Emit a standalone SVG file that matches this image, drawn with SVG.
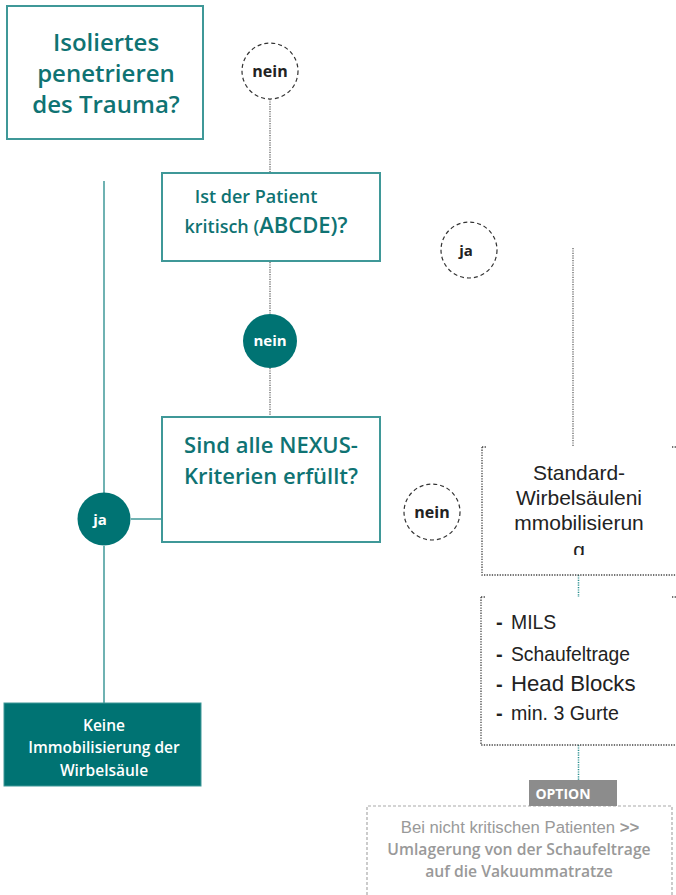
<svg xmlns="http://www.w3.org/2000/svg" width="676" height="895" viewBox="0 0 676 895">
<defs>
<style>
.box{fill:#fff;stroke:#3f9898;stroke-width:2}
.tq{font-family:"Open Sans","DejaVu Sans",sans-serif;font-weight:600;fill:#0f7373;text-anchor:middle}
.dc{fill:#fff;stroke:#333;stroke-width:1.2;stroke-dasharray:4 3}
.fc{fill:#007373}
.lbl{font-family:"Open Sans","DejaVu Sans",sans-serif;font-weight:700;text-anchor:middle}
.dot{fill:none;stroke:#777;stroke-width:1.5;stroke-dasharray:1.2 1.2}
.tdot{fill:none;stroke:#2a9090;stroke-width:1.5;stroke-dasharray:1.2 1.2}
.solid{fill:none;stroke:#3f9898;stroke-width:1.5}
.bdot{fill:none;stroke:#444;stroke-width:1.3;stroke-dasharray:1.3 1.3}
.ar{font-family:"Liberation Sans",Arial,sans-serif;fill:#222}
</style>
<clipPath id="stdclip"><rect x="482" y="447" width="194" height="108"/></clipPath>
</defs>

<g id="connectors">
<line class="dot" x1="270" y1="99" x2="270" y2="173"/>
<line class="dot" x1="270" y1="262" x2="270" y2="314"/>
<line class="dot" x1="270" y1="368" x2="270" y2="417"/>
<line class="solid" x1="104" y1="181" x2="104" y2="493"/>
<line class="solid" x1="104" y1="546" x2="104" y2="703"/>
<line class="solid" x1="131" y1="519" x2="162" y2="519"/>
<line class="dot" x1="573" y1="248" x2="573" y2="446"/>
<line class="tdot" x1="578.5" y1="575" x2="578.5" y2="597"/>
<line class="tdot" x1="578.5" y1="745" x2="578.5" y2="780"/>
</g>

<g id="n-isoliert">
<rect class="box" x="7" y="6" width="196" height="133"/>
<text class="tq" font-size="24" x="106"><tspan x="106" y="51">Isoliertes</tspan><tspan x="106" y="82">penetrieren</tspan><tspan x="106" y="113">des Trauma?</tspan></text>
</g>

<g id="c-nein1">
<circle class="dc" cx="270" cy="71" r="28"/>
<text class="lbl" font-size="16" x="270" y="77" fill="#222">nein</text>
</g>

<g id="n-kritisch">
<rect class="box" x="162" y="173" width="218" height="88"/>
<text class="tq" font-size="18" x="256" y="203">Ist der Patient</text>
<text class="tq" x="266" y="233"><tspan font-size="18">kritisch (</tspan><tspan font-size="22">ABCDE)?</tspan></text>
</g>

<g id="c-nein2">
<circle class="fc" cx="270" cy="341" r="27"/>
<text class="lbl" font-size="15" x="270" y="346" fill="#fff">nein</text>
</g>

<g id="n-nexus">
<rect class="box" x="162" y="417" width="218" height="125"/>
<text class="tq" font-size="22" x="271"><tspan x="271" y="453">Sind alle NEXUS-</tspan><tspan x="271" y="484">Kriterien erfüllt?</tspan></text>
</g>

<g id="c-ja1">
<circle class="fc" cx="104" cy="519" r="26.5"/>
<text class="lbl" font-size="15" x="100" y="525" fill="#fff" font-weight="600">ja</text>
</g>

<g id="n-keine">
<rect x="4" y="703" width="197" height="83" fill="#007373" stroke="#3f9898" stroke-width="1"/>
<text class="tq" font-size="15.5" style="fill:#fff" x="104"><tspan x="104" y="731">Keine</tspan><tspan x="104" y="753">Immobilisierung der</tspan><tspan x="104" y="776">Wirbelsäule</tspan></text>
</g>

<g id="c-ja2">
<circle class="dc" cx="469" cy="250" r="28"/>
<text class="lbl" font-size="15" x="466" y="256" fill="#222">ja</text>
</g>

<g id="c-nein3">
<circle class="dc" cx="432" cy="512" r="28"/>
<text class="lbl" font-size="16" x="432" y="518" fill="#222">nein</text>
</g>

<g id="n-standard">
<path class="bdot" d="M482 447 V575 H676"/>
<path class="bdot" d="M482 447 H486 M672 447 H676"/>
<g clip-path="url(#stdclip)">
<text class="ar" font-size="21" text-anchor="middle" x="579"><tspan x="579" y="480">Standard-</tspan><tspan x="579" y="505">Wirbelsäuleni</tspan><tspan x="579" y="530">mmobilisierun</tspan><tspan x="579" y="557">g</tspan></text>
</g>
</g>

<g id="n-mils">
<path class="bdot" d="M481 597 V745 H676"/>
<path class="bdot" d="M481 597 H485 M672 597 H676"/>
<text class="ar" font-weight="700" font-size="20" x="496" y="629">-</text>
<text class="ar" font-size="19.4" x="511" y="629">MILS</text>
<text class="ar" font-weight="700" font-size="20" x="496" y="661">-</text>
<text class="ar" font-size="19.3" x="511" y="661">Schaufeltrage</text>
<text class="ar" font-weight="700" font-size="20" x="496" y="691">-</text>
<text class="ar" font-size="22.2" x="511" y="691">Head Blocks</text>
<text class="ar" font-weight="700" font-size="20" x="496" y="720">-</text>
<text class="ar" font-size="19.6" x="511" y="720">min. 3 Gurte</text>
</g>

<g id="n-option">
<path d="M367 895 V806 H672 V895" fill="none" stroke="#aaa" stroke-width="1.2" stroke-dasharray="3 2"/>
<rect x="529" y="780" width="88" height="26" fill="#8c8c8c"/>
<text class="lbl" font-size="14" x="563" y="799" fill="#fff">OPTION</text>
<text font-family="'Liberation Sans',Arial,sans-serif" x="520" y="833" font-size="16.7" fill="#999" text-anchor="middle">Bei nicht kritischen Patienten <tspan font-weight="700">&gt;&gt;</tspan></text>
<text class="tq" style="fill:#999" font-size="15.7" x="519"><tspan x="519" y="855">Umlagerung von der Schaufeltrage</tspan><tspan x="519" y="877">auf die Vakuummatratze</tspan></text>
</g>
</svg>
